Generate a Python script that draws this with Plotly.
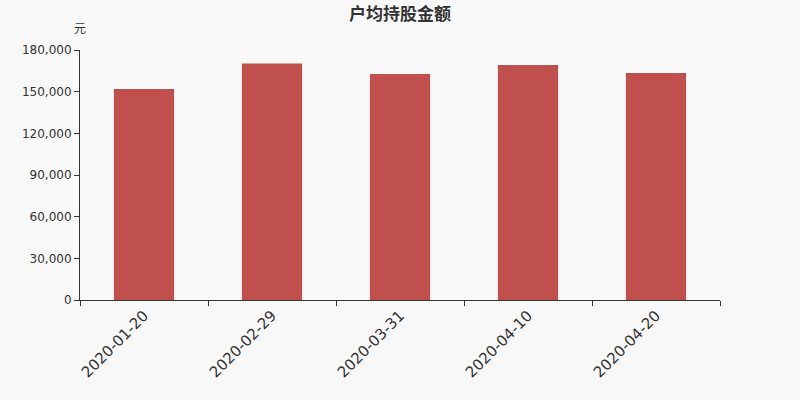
import plotly.graph_objects as go

# 户均持股金额 by reporting date
dates = ["2020-01-20", "2020-02-29", "2020-03-31", "2020-04-10", "2020-04-20"]
amounts = [151900, 170300, 162700, 169200, 163400]

fig = go.Figure(go.Bar(
    x=dates,
    y=amounts,
    marker=dict(color="#c0504d", line=dict(width=0)),
    width=0.47,
))

fig.update_layout(
    width=800,
    height=400,
    paper_bgcolor="#f8f8f8",
    plot_bgcolor="#f8f8f8",
    margin=dict(l=80, r=80, t=50, b=100),
    showlegend=False,
    font=dict(family="DejaVu Sans", color="#333333"),
    title=dict(
        text="<b>户均持股金额</b>",
        x=0.5, xanchor="center",
        y=0.966, yanchor="middle",
        font=dict(size=17, color="#333333", family="Noto Sans CJK SC"),
    ),
    annotations=[dict(
        text="元", xref="paper", yref="paper", x=0, y=1.088,
        xanchor="center", yanchor="middle", showarrow=False,
        font=dict(size=12, color="#333333", family="Noto Sans CJK SC"),
    )],
)

fig.update_xaxes(
    type="category",
    tickson="boundaries",
    ticks="outside",
    ticklen=5,
    tickcolor="#333333",
    showline=True,
    linecolor="#333333",
    linewidth=1,
    showgrid=False,
    tickangle=-45,
    tickfont=dict(size=15, color="#333333"),
)

fig.update_yaxes(
    range=[0, 180000],
    dtick=30000,
    tickformat=",",
    ticks="outside",
    ticklen=5,
    tickcolor="#333333",
    showline=True,
    linecolor="#333333",
    linewidth=1,
    showgrid=False,
    zeroline=False,
    tickfont=dict(size=12, color="#333333"),
)

fig.write_html(
    "out.html",
    config={"displayModeBar": False},
    post_script="document.body.style.margin='0';document.body.style.background='#f8f8f8';",
)
